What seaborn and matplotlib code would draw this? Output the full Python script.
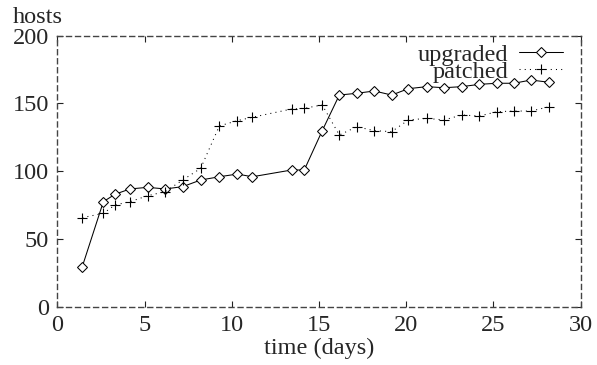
import matplotlib
matplotlib.use('Agg')
import matplotlib.pyplot as plt
import seaborn as sns

# Values
days = [1.43, 2.64, 3.31, 4.17, 5.18, 6.18, 7.19, 8.22, 9.29, 10.32, 11.18,
        13.44, 14.16, 15.19, 16.17, 17.17, 18.18, 19.17, 20.13, 21.18, 22.17,
        23.19, 24.2, 25.2, 26.19, 27.16, 28.21]
upgraded = [29.5, 77.5, 83, 86.9, 88.1, 86.9, 88.6, 93.5, 95.9, 97.9, 95.9,
            100.9, 100.9, 129.9, 156.2, 157.5, 159.2, 156.2, 160.9, 162.4, 161.6,
            162.4, 164.1, 164.9, 164.9, 167.3, 165.6]
patched = [65.7, 68.9, 75.1, 77.5, 81.9, 84.9, 93.5, 102.1, 133.4, 137.3, 139.8,
           145.9, 146.4, 148.9, 126.7, 132.8, 129.9, 129.2, 137.8, 139.0, 137.8,
           141.5, 140.7, 143.9, 144.4, 144.4, 147.6]
x_ticks = [0, 5, 10, 15, 20, 25, 30]
y_ticks = [0, 50, 100, 150, 200]

sns.set_style('ticks')
plt.rcParams['font.family'] = ['Liberation Serif', 'DejaVu Serif']
fs = 17.5

fig = plt.figure(figsize=(5.97, 3.65), dpi=100)
ax = fig.add_axes([0.096, 0.1597, 0.9724 - 0.096, 0.9022 - 0.1597])

sns.lineplot(x=days, y=upgraded, ax=ax, color='black', linewidth=0.75,
             marker='D', markersize=4.6, markerfacecolor='white',
             markeredgecolor='black', markeredgewidth=0.75, label='upgraded')
sns.lineplot(x=days, y=patched, ax=ax, color='black', linewidth=0.75,
             linestyle=(0, (1, 4)), marker='+', markersize=7,
             markeredgecolor='black', markeredgewidth=0.8, label='patched')

ax.set_xlim(0, 30)
ax.set_ylim(0, 200)
ax.set_xticks(x_ticks)
ax.set_yticks(y_ticks)

# gnuplot-style dashed border with inward ticks on all sides
for sp in ax.spines.values():
    sp.set_visible(True)
    sp.set_linestyle((0, (3.6, 2.9)))
    sp.set_linewidth(1)
    sp.set_color('#444444')
ax.tick_params(direction='in', length=4, width=0.8, color='#222222',
               top=True, right=True, labelsize=fs, pad=6)

ax.set_xlabel('time (days)', fontsize=fs, labelpad=1)
ax.set_ylabel('')
fig.text(0.022, 1 - 23 / 365, 'hosts', fontsize=fs, va='baseline', ha='left')

ax.legend(loc='upper right', bbox_to_anchor=(0.9666, 0.97), frameon=False,
          markerfirst=False, fontsize=fs, borderpad=0, borderaxespad=0,
          handlelength=1.82, handletextpad=0.42, labelspacing=-0.2)

fig.savefig('out.png', dpi=100)
